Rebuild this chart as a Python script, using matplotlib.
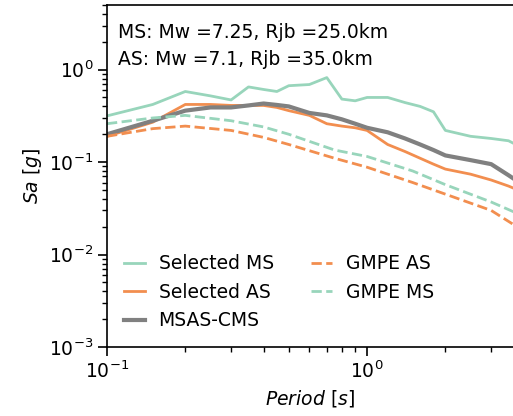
import matplotlib
matplotlib.use('Agg')
import matplotlib.pyplot as plt
import numpy as np

# Periods (s) for the selected records and conditional mean spectrum
PERIODS = [0.1, 0.15, 0.2, 0.25, 0.3, 0.35, 0.4, 0.45, 0.5, 0.6, 0.7, 0.8, 0.9,
           1.0, 1.2, 1.4, 1.6, 1.8, 2.0, 2.5, 3.0, 3.5, 4.0]
SEL_MS = [0.316, 0.42, 0.58, 0.52, 0.47, 0.65, 0.61, 0.58, 0.67, 0.69, 0.82, 0.48, 0.46,
          0.50, 0.50, 0.44, 0.40, 0.35, 0.22, 0.19, 0.18, 0.17, 0.14]
SEL_AS = [0.19, 0.27, 0.42, 0.42, 0.41, 0.41, 0.41, 0.39, 0.36, 0.32, 0.26, 0.245, 0.235,
          0.22, 0.155, 0.13, 0.11, 0.095, 0.084, 0.074, 0.064, 0.055, 0.047]
MSAS_CMS = [0.2, 0.28, 0.36, 0.39, 0.39, 0.41, 0.43, 0.415, 0.40, 0.34, 0.32, 0.29, 0.26,
            0.235, 0.21, 0.18, 0.155, 0.135, 0.118, 0.105, 0.095, 0.072, 0.056]

# GMPE median spectra
GMPE_T = [0.1, 0.15, 0.2, 0.3, 0.4, 0.5, 0.75, 1.0, 1.5, 2.0, 3.0, 4.0]
GMPE_AS = [0.19, 0.23, 0.245, 0.22, 0.185, 0.155, 0.11, 0.088, 0.06, 0.045, 0.03, 0.018]
GMPE_MS = [0.26, 0.30, 0.32, 0.28, 0.24, 0.20, 0.135, 0.115, 0.08, 0.057, 0.037, 0.026]

GREEN = '#98d5bb'
ORANGE = '#f28e4f'
GREY = '#808080'

plt.rc('font', size=13.5)
plt.rc('axes', linewidth=1.2)
for a in ('xtick', 'ytick'):
    plt.rc(a + '.major', size=6.2, width=1.2)
    plt.rc(a + '.minor', size=3.6, width=1.0)

fig = plt.figure(figsize=(5.13, 4.16), dpi=100)
ax = fig.add_axes([107 / 513, 1 - 347 / 416, 1 - 107 / 513, 342 / 416])

ax.loglog(PERIODS, SEL_MS, color=GREEN, lw=2, label='Selected MS')
ax.loglog(PERIODS, SEL_AS, color=ORANGE, lw=2, label='Selected AS')
ax.loglog(PERIODS, MSAS_CMS, color=GREY, lw=3, label='MSAS-CMS')
ax.loglog(GMPE_T, GMPE_AS, color=ORANGE, lw=2, ls='--', label='GMPE AS')
ax.loglog(GMPE_T, GMPE_MS, color=GREEN, lw=2, ls='--', label='GMPE MS')

ax.set_xlim(0.1, 3.64)
ax.set_ylim(1e-3, 5)
ax.spines['right'].set_visible(False)

ax.set_xlabel(r'$Period\ [s]$')
ax.set_ylabel(r'$Sa\ [g]$')

ax.text(0.027, 0.921, 'MS: Mw =7.25, Rjb =25.0km', transform=ax.transAxes, va='center')
ax.text(0.027, 0.842, 'AS: Mw =7.1, Rjb =35.0km', transform=ax.transAxes, va='center')

ax.legend(loc='lower left', ncol=2, frameon=False, handlelength=1.1,
          handletextpad=0.75, columnspacing=2.0)

fig.savefig('out.png', dpi=100)
